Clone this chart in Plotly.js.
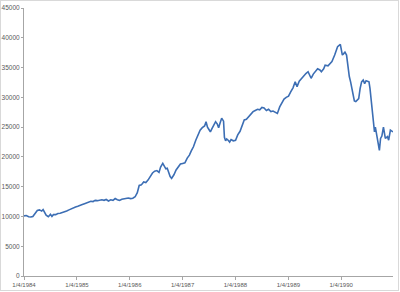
<!DOCTYPE html>
<html>
<head>
<meta charset="utf-8">
<script src="https://cdn.plot.ly/plotly-3.0.1.min.js"></script>
<style>
html,body{margin:0;padding:0;background:#fff;}
#wrap{position:relative;width:400px;height:292px;}
#chart{width:400px;height:292px;}
#frame{position:absolute;left:0;top:0;width:397px;height:289px;border:1px solid #d9d9d9;pointer-events:none;}
</style>
</head>
<body>
<div id="wrap"><div id="chart"></div><div id="frame"></div></div>
<script>
const dates = [
"1984-01-04","1984-01-20","1984-02-05","1984-02-20","1984-03-05","1984-03-20","1984-04-05","1984-04-20","1984-05-05","1984-05-15","1984-05-25","1984-06-05","1984-06-20","1984-07-05","1984-07-15","1984-07-25","1984-08-10","1984-08-25","1984-09-10","1984-09-25","1984-10-10","1984-10-25","1984-11-10","1984-11-25","1984-12-10","1984-12-25",
"1985-01-10","1985-01-25","1985-02-10","1985-02-25","1985-03-10","1985-03-25","1985-04-10","1985-04-25","1985-05-10","1985-05-25","1985-06-10","1985-06-25","1985-07-10","1985-07-25","1985-08-10","1985-08-25","1985-09-10","1985-09-25","1985-10-10","1985-10-25","1985-11-10","1985-11-25","1985-12-10","1985-12-25",
"1986-01-10","1986-01-25","1986-02-10","1986-02-25","1986-03-10","1986-03-25","1986-04-10","1986-04-25","1986-05-10","1986-05-25","1986-06-10","1986-06-25","1986-07-10","1986-07-25","1986-08-05","1986-08-20","1986-09-01","1986-09-10","1986-09-20","1986-10-01","1986-10-10","1986-10-20","1986-11-05","1986-11-20","1986-12-05","1986-12-20",
"1987-01-05","1987-01-20","1987-02-05","1987-02-20","1987-03-05","1987-03-20","1987-04-05","1987-04-20","1987-05-05","1987-05-20","1987-06-05","1987-06-15","1987-06-25","1987-07-05","1987-07-15","1987-07-25","1987-08-05","1987-08-20","1987-09-01","1987-09-10","1987-09-20","1987-10-01","1987-10-14","1987-10-20","1987-10-28","1987-11-05","1987-11-15","1987-11-25","1987-12-05","1987-12-20",
"1988-01-05","1988-01-20","1988-02-05","1988-02-20","1988-03-05","1988-03-20","1988-04-05","1988-04-20","1988-05-05","1988-05-20","1988-06-05","1988-06-20","1988-07-05","1988-07-20","1988-08-05","1988-08-20","1988-09-05","1988-09-20","1988-10-05","1988-10-20","1988-11-05","1988-11-20","1988-12-05","1988-12-20",
"1989-01-05","1989-01-20","1989-02-05","1989-02-20","1989-03-05","1989-03-20","1989-04-05","1989-04-20","1989-05-05","1989-05-20","1989-06-01","1989-06-10","1989-06-25","1989-07-10","1989-07-25","1989-08-10","1989-08-20","1989-09-05","1989-09-15","1989-10-05","1989-10-20","1989-11-01","1989-11-20","1989-12-10","1989-12-29",
"1990-01-12","1990-01-20","1990-01-30","1990-02-10","1990-02-20","1990-03-01","1990-03-10","1990-03-25","1990-04-05","1990-04-15","1990-04-25","1990-05-05","1990-05-15","1990-05-25","1990-06-05","1990-06-15","1990-06-25","1990-07-05","1990-07-15","1990-07-22","1990-08-01","1990-08-10","1990-08-22","1990-08-28","1990-09-05","1990-09-15","1990-09-25","1990-10-03","1990-10-12","1990-10-23","1990-11-05","1990-11-20","1990-11-28","1990-12-10","1990-12-28"
];
const values = [
10100,10150,9950,9900,10000,10500,11000,11100,10900,11150,10800,10200,9950,10350,10000,10300,10300,10500,10550,10650,10700,10900,11100,11300,11400,11600,
11700,11900,12000,12150,12300,12400,12550,12500,12700,12650,12750,12800,12700,12850,12600,12800,12700,13000,12800,12700,12900,13000,13100,13100,
13000,13050,13300,14000,15200,15300,15800,15700,16100,16700,17300,17600,17700,17400,18300,18900,18500,18000,18100,17200,16700,16400,17000,17800,18400,18800,
18900,19000,19800,20300,21000,21700,22800,23800,24500,24900,25200,25900,25000,24600,24200,24700,25300,25900,25500,24900,25700,26500,26000,23300,22700,23000,22800,22500,22900,22700,
22800,23700,24300,25500,26200,26300,26800,27200,27600,27800,28000,27900,28300,28200,27800,28000,27600,27700,27500,27300,28400,29200,29700,30000,
30200,30900,31600,32600,31800,32700,33200,33700,34000,34300,33800,33200,33900,34300,34800,34600,34300,34800,35400,35300,35600,36000,37100,38500,38900,
37100,37300,37600,37100,34500,33500,32600,30300,29400,29300,29600,29800,31500,32600,32900,32300,32800,32700,32600,31500,29000,26500,24200,25000,23900,23000,21100,23100,23500,25000,23100,23400,22800,24500,24200
];
const tickDates = ["1984-01-04","1985-01-04","1986-01-04","1987-01-04","1988-01-04","1989-01-04","1990-01-04"];
const tickLabels = ["1/4/1984","1/4/1985","1/4/1986","1/4/1987","1/4/1988","1/4/1989","1/4/1990"];

const yFont = {family:"Liberation Sans, Arial, sans-serif", size:6.5, color:"#595959"};
const xFont = {family:"Liberation Sans, Arial, sans-serif", size:6, color:"#595959"};
Plotly.newPlot("chart", [{
  x: dates, y: values, type: "scatter", mode: "lines",
  line: {color:"#3c6eb4", width:1.6}, hoverinfo:"skip"
}], {
  width:400, height:292,
  margin:{l:24, r:7, t:8, b:16, pad:0},
  paper_bgcolor:"#fff", plot_bgcolor:"#fff",
  showlegend:false,
  xaxis:{type:"date", range:["1984-01-04","1990-12-28"], tickmode:"array", tickvals:tickDates, ticktext:tickLabels,
    showgrid:false, zeroline:false, showline:true, linecolor:"#a6a6a6", linewidth:1,
    ticks:"outside", ticklen:3, tickcolor:"#a6a6a6", tickfont:xFont, tickangle:0},
  yaxis:{range:[0,45000], dtick:5000, tick0:0, tickformat:"d", showgrid:false, zeroline:false,
    showline:true, linecolor:"#a6a6a6", linewidth:1, ticks:"outside", ticklen:2, tickcolor:"#a6a6a6", tickfont:yFont}
}, {staticPlot:true, displayModeBar:false});
</script>
</body>
</html>
